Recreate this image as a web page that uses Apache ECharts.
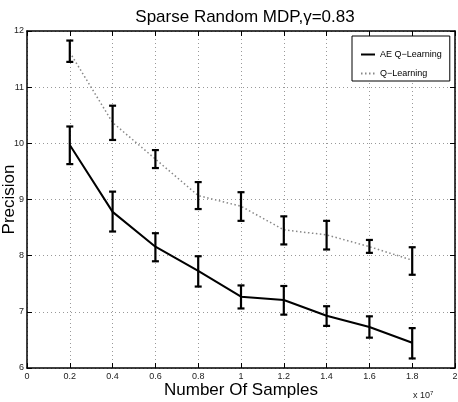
<html>
<head>
<meta charset="utf-8">
<script src="https://cdn.jsdelivr.net/npm/echarts@6/dist/echarts.min.js"></script>
</head>
<body>
<style>
    html, body, #main {
        width: 100%;
        height: 100%;
        margin: 0;
    }
</style>
<div id="main"></div>
<script>
var samples = [0.2, 0.4, 0.6, 0.8, 1.0, 1.2, 1.4, 1.6, 1.8];
var aeMean = [9.97, 8.78, 8.16, 7.73, 7.27, 7.21, 6.93, 6.73, 6.45];
var aeLow  = [9.63, 8.43, 7.90, 7.45, 7.06, 6.95, 6.75, 6.54, 6.17];
var aeHigh = [10.30, 9.14, 8.40, 7.99, 7.47, 7.46, 7.10, 6.92, 6.71];
var qMean = [11.62, 10.37, 9.72, 9.07, 8.88, 8.46, 8.37, 8.16, 7.92];
var qLow  = [11.45, 10.06, 9.56, 8.83, 8.62, 8.20, 8.11, 8.05, 7.66];
var qHigh = [11.83, 10.67, 9.88, 9.31, 9.13, 8.70, 8.62, 8.28, 8.15];

var font = 'Liberation Sans';
var chart = echarts.init(document.getElementById('main'));

function errBars(low, high) {
    return {
        type: 'custom',
        silent: true,
        z: 5,
        data: samples.map(function (x, i) { return [x, low[i], high[i]]; }),
        renderItem: function (params, api) {
            var lo = api.coord([api.value(0), api.value(1)]);
            var hi = api.coord([api.value(0), api.value(2)]);
            var w = 3.5;
            var st = { stroke: '#000', lineWidth: 2.2 };
            return {
                type: 'group',
                children: [
                    { type: 'line', shape: { x1: lo[0], y1: lo[1], x2: hi[0], y2: hi[1] }, style: st },
                    { type: 'line', shape: { x1: lo[0] - w, y1: lo[1], x2: lo[0] + w, y2: lo[1] }, style: st },
                    { type: 'line', shape: { x1: hi[0] - w, y1: hi[1], x2: hi[0] + w, y2: hi[1] }, style: st }
                ]
            };
        }
    };
}

function pairs(ys) {
    return samples.map(function (x, i) { return [x, ys[i]]; });
}

var split = { show: true, lineStyle: { color: '#999', type: [1, 3], width: 1 } };
var frameLine = { show: true, onZero: false, lineStyle: { color: '#000', width: 1.5 } };
var tickIn = { show: true, inside: true, length: 5, lineStyle: { color: '#000', width: 1 } };
var lab = { color: '#222', fontSize: 9, fontFamily: font };

var option = {
    animation: false,
    backgroundColor: '#fff',
    title: {
        text: 'Sparse Random MDP,\u03b3=0.83',
        left: 240, top: 4, textAlign: 'center',
        textStyle: { fontFamily: font, fontSize: 17, fontWeight: 'normal', color: '#000' }
    },
    grid: { left: 27, right: 3, top: 31, bottom: 34, outerBoundsMode: 'none', containLabel: false },
    legend: {
        left: 352, top: 36,
        orient: 'vertical',
        itemWidth: 14, itemHeight: 8,
        itemGap: 8,
        padding: [13, 8, 2, 8],
        borderColor: '#000', borderWidth: 1,
        backgroundColor: '#fff',
        itemStyle: { opacity: 0 },
        textStyle: { fontFamily: font, fontSize: 9, lineHeight: 11, color: '#000' },
        data: ['AE Q\u2212Learning', 'Q\u2212Learning']
    },
    xAxis: [{
        type: 'value', min: 0, max: 2, interval: 0.2,
        name: 'Number Of Samples', nameLocation: 'middle', nameGap: 14, nameMoveOverlap: false,
        nameTextStyle: { fontFamily: font, fontSize: 17, color: '#000' },
        axisLine: frameLine, axisTick: tickIn, splitLine: split,
        axisLabel: Object.assign({ margin: 4 }, lab)
    }, {
        type: 'value', position: 'top', min: 0, max: 2, interval: 0.2,
        axisLine: frameLine, axisTick: tickIn, splitLine: { show: false },
        axisLabel: { show: false }
    }],
    yAxis: [{
        type: 'value', min: 6, max: 12, interval: 1,
        name: 'Precision', nameLocation: 'middle', nameGap: 9, nameMoveOverlap: false,
        nameTextStyle: { fontFamily: font, fontSize: 17, color: '#000' },
        axisLine: frameLine, axisTick: tickIn, splitLine: split,
        axisLabel: Object.assign({ margin: 3 }, lab)
    }, {
        type: 'value', position: 'right', min: 6, max: 12, interval: 1,
        axisLine: frameLine, axisTick: tickIn, splitLine: { show: false },
        axisLabel: { show: false }
    }],
    graphic: [{
        type: 'text', left: 413, top: 390,
        style: {
            text: 'x 10{s|7}',
            rich: { s: { fontSize: 6, verticalAlign: 'top', padding: [0, 0, 6, 0] } },
            fontFamily: font, fontSize: 9, fill: '#222'
        }
    }],
    series: [{
        name: 'AE Q\u2212Learning', type: 'line', symbol: 'none', z: 4,
        lineStyle: { color: '#000', width: 2 },
        itemStyle: { color: '#000' },
        data: pairs(aeMean)
    }, {
        name: 'Q\u2212Learning', type: 'line', symbol: 'none', z: 3,
        lineStyle: { color: '#888', width: 1.5, type: [1.5, 2.5] },
        itemStyle: { color: '#888' },
        data: pairs(qMean)
    }, errBars(aeLow, aeHigh), errBars(qLow, qHigh)]
};
chart.setOption(option);
window.onresize = chart.resize;
</script>
</body>
</html>
